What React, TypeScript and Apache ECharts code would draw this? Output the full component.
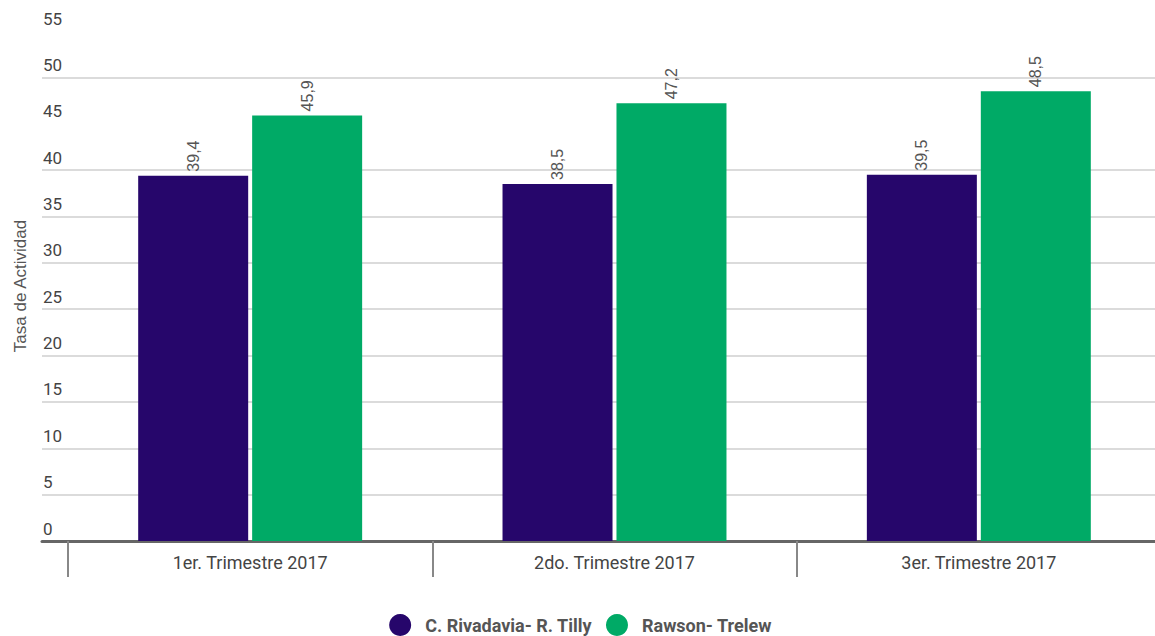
import React, { useEffect, useRef } from "react";
import * as echarts from "echarts";

const categories = ["1er. Trimestre 2017", "2do. Trimestre 2017", "3er. Trimestre 2017"];
const seriesNames = ["C. Rivadavia- R. Tilly", "Rawson- Trelew"];
const rivadavia = [39.4, 38.5, 39.5];
const rawson = [45.9, 47.2, 48.5];
const yTicks = [0, 5, 10, 15, 20, 25, 30, 35, 40, 45, 50, 55];
const colors = ["#26066b", "#00aa66"];

export default function App() {
  const ref = useRef<HTMLDivElement>(null);
  useEffect(() => {
    if (!ref.current) return;
    const chart = echarts.init(ref.current, null, { renderer: "svg" });
    const grid = "#cfcfcf";
    const splitColors = yTicks.map((t) => (t === 45 || t === 55 ? "rgba(0,0,0,0)" : grid));
    const label = {
      show: true,
      position: "top",
      rotate: 90,
      align: "left",
      verticalAlign: "middle",
      distance: 4,
      color: "#555",
      fontSize: 16,
      fontFamily: "Liberation Sans, Arial, sans-serif",
      formatter: (p: any) => String(p.value).replace(".", ","),
    };
    chart.setOption({
      animation: false,
      grid: [
        { left: 42, right: 6, top: 31, bottom: 95 },
        { left: 68, right: 0, top: 31, bottom: 95 },
      ],
      legend: {
        top: 609,
        left: "center",
        icon: "circle",
        itemWidth: 22,
        itemHeight: 22,
        itemGap: 14,
        padding: [5, 20, 5, 5],
        data: seriesNames,
        textStyle: { color: "#555", fontSize: 18, fontWeight: "bold", fontFamily: "Roboto, sans-serif", padding: [0, 0, 0, 9] },
      },
      xAxis: [
        {
          gridIndex: 0,
          type: "value",
          min: 0,
          max: 1,
          axisLine: { show: true, onZero: false, lineStyle: { color: "#666", width: 3 } },
          axisTick: { show: false },
          axisLabel: { show: false },
          splitLine: { show: false },
        },
        {
          gridIndex: 1,
          type: "category",
          data: categories,
          axisLine: { show: false },
          axisTick: { show: true, length: 36, lineStyle: { color: "#888", width: 2 } },
          axisLabel: {
            margin: 12,
            color: "#444",
            fontSize: 18,
            fontFamily: "Roboto, sans-serif",
          },
        },
      ],
      yAxis: [
        {
          gridIndex: 0,
          type: "value",
          min: 0,
          max: 55,
          interval: 5,
          name: "Tasa de Actividad",
          nameLocation: "middle",
          nameGap: 13,
          nameTextStyle: { color: "#555", fontSize: 17, fontFamily: "Liberation Sans, Arial, sans-serif" },
          axisLine: { show: false },
          axisTick: { show: false },
          axisLabel: {
            inside: true,
            margin: 1,
            verticalAlign: "bottom",
            padding: [0, 0, 4, 0],
            color: "#444",
            fontSize: 17,
            fontFamily: "Roboto, sans-serif",
          },
          splitLine: { show: true, lineStyle: { color: splitColors, width: 1.5 } },
        },
        {
          gridIndex: 1,
          type: "value",
          min: 0,
          max: 55,
          interval: 5,
          show: false,
          splitLine: { show: false },
        },
      ],
      series: [
        {
          name: seriesNames[0],
          type: "bar",
          xAxisIndex: 1,
          yAxisIndex: 1,
          data: rivadavia,
          barWidth: 110,
          barGap: "3.6%",
          itemStyle: { color: colors[0] },
          label,
        },
        {
          name: seriesNames[1],
          type: "bar",
          xAxisIndex: 1,
          yAxisIndex: 1,
          data: rawson,
          barWidth: 110,
          barGap: "3.6%",
          itemStyle: { color: colors[1] },
          label,
        },
      ],
    });
    return () => chart.dispose();
  }, []);
  return (
    <div style={{ position: "absolute", left: 0, top: 0, width: 1155, height: 636, overflow: "hidden" }}>
      <div ref={ref} style={{ width: 1161, height: 636 }} />
    </div>
  );
}
